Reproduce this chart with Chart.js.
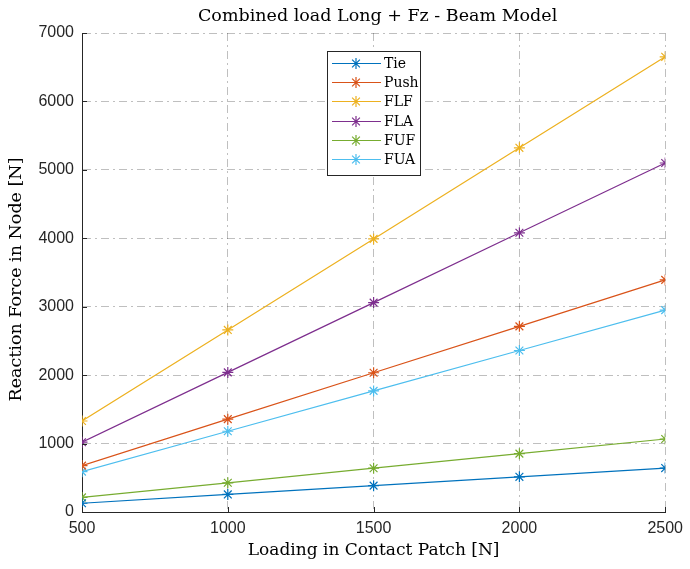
<!DOCTYPE html>
<html>
<head>
<meta charset="utf-8">
<script src="https://cdn.jsdelivr.net/npm/chart.js@4"></script>
<style>
  html, body { margin: 0; padding: 0; background: #fff; }
  #wrap { width: 690px; height: 569px; }
</style>
</head>
<body>
<div id="wrap"><canvas id="reactionChart" width="690" height="569"></canvas></div>
<script>
// Loading in contact patch [N]
const loads = [500, 1000, 1500, 2000, 2500];

// Reaction force in node [N]
const tie  = [128, 257, 385, 514, 642];
const push = [678, 1357, 2035, 2713, 3392];
const flf  = [1330, 2661, 3991, 5322, 6652];
const fla  = [1020, 2040, 3060, 4080, 5100];
const fuf  = [213, 427, 640, 853, 1067];
const fua  = [590, 1180, 1770, 2360, 2950];

const seriesNames = ["Tie", "Push", "FLF", "FLA", "FUF", "FUA"];
const seriesData = [tie, push, flf, fla, fuf, fua];
const seriesColors = ["#0072BD", "#D95319", "#EDB120", "#7E2F8E", "#77AC30", "#4DBEEE"];

const xTicks = [500, 1000, 1500, 2000, 2500];
const yTicks = [0, 1000, 2000, 3000, 4000, 5000, 6000, 7000];

const titleText = "Combined load Long + Fz - Beam Model";
const yLabel = "Reaction Force in Node [N]";

const serif = "'DejaVu Serif', 'Liberation Serif', serif";
const sans = "'Liberation Sans', Arial, sans-serif";

// Legend drawn inside the plot box like the MATLAB one (line + asterisk)
const boxLegend = {
  id: "boxLegend",
  afterDatasetsDraw(chart) {
    const ctx = chart.ctx;
    const x0 = 327, y0 = 51, w = 93, h = 124, rowH = 19.3;
    ctx.save();
    ctx.fillStyle = "#fff";
    ctx.fillRect(x0, y0, w, h);
    ctx.strokeStyle = "#262626";
    ctx.lineWidth = 1;
    ctx.strokeRect(x0 + 0.5, y0 + 0.5, w, h);
    ctx.font = "14px " + serif;
    ctx.textBaseline = "middle";
    chart.data.datasets.forEach((ds, i) => {
      const y = Math.round(y0 + 11.7 + i * rowH) + 0.5;
      ctx.strokeStyle = ds.borderColor;
      ctx.lineWidth = 1.2;
      ctx.beginPath();
      ctx.moveTo(x0 + 5, y);
      ctx.lineTo(x0 + 54, y);
      ctx.stroke();
      Chart.helpers.drawPoint(ctx, { pointStyle: "star", radius: 5.5, borderWidth: 1.2 }, x0 + 29, y);
      ctx.fillStyle = "#000";
      ctx.fillText(ds.label, x0 + 57, y + 1);
    });
    ctx.restore();
  }
};

// MATLAB-style inward tick marks, title over the axes, rotated y label
const axesDecor = {
  id: "axesDecor",
  afterDraw(chart) {
    const ctx = chart.ctx;
    const xs = chart.scales.x, ys = chart.scales.y;
    const a = chart.chartArea;
    ctx.save();
    ctx.strokeStyle = "#262626";
    ctx.lineWidth = 1;
    ctx.beginPath();
    xTicks.forEach(v => {
      const px = Math.round(xs.getPixelForValue(v)) + 0.5;
      ctx.moveTo(px, a.bottom);
      ctx.lineTo(px, a.bottom - 5);
    });
    yTicks.forEach(v => {
      const py = Math.round(ys.getPixelForValue(v)) + 0.5;
      ctx.moveTo(a.left, py);
      ctx.lineTo(a.left + 5, py);
    });
    ctx.stroke();

    ctx.fillStyle = "#000";
    ctx.textAlign = "center";
    ctx.textBaseline = "middle";
    ctx.font = "17.5px " + serif;
    ctx.fillText(titleText, (a.left + a.right) / 2 + 4, 16);

    ctx.font = "17.5px " + serif;
    ctx.translate(16, (a.top + a.bottom) / 2 + 7);
    ctx.rotate(-Math.PI / 2);
    ctx.fillText(yLabel, 0, 0);
    ctx.restore();
  }
};

const ctx = document.getElementById("reactionChart").getContext("2d");
new Chart(ctx, {
  type: "line",
  data: {
    datasets: seriesNames.map((name, i) => ({
      label: name,
      data: loads.map((x, j) => ({ x: x, y: seriesData[i][j] })),
      borderColor: seriesColors[i],
      backgroundColor: seriesColors[i],
      borderWidth: 1.2,
      pointStyle: "star",
      pointRadius: 5.5,
      pointBorderWidth: 1.2,
      fill: false,
      tension: 0
    }))
  },
  options: {
    responsive: false,
    animation: false,
    layout: { padding: { top: 0, right: 12, left: 0, bottom: 0 } },
    plugins: {
      legend: { display: false },
      tooltip: { enabled: false },
      title: {
        // keeps the space above the axes; the text itself is drawn by axesDecor
        display: true,
        text: titleText,
        color: "rgba(0,0,0,0)",
        font: { family: serif, size: 17.5, weight: "normal" },
        padding: { top: 6, bottom: 6 }
      }
    },
    scales: {
      x: {
        type: "linear",
        min: 500,
        max: 2500,
        afterBuildTicks: s => { s.ticks = xTicks.map(v => ({ value: v })); },
        afterFit: s => { s.height = 57; },
        ticks: { color: "#262626", font: { family: sans, size: 16 }, padding: 7, callback: v => String(v) },
        grid: { color: "rgba(0,0,0,0.25)", lineWidth: 1, drawTicks: false },
        border: { display: true, color: "#262626", width: 1, dash: [8, 4, 2, 4] },
        title: { display: true, text: "Loading in Contact Patch [N]", color: "#000", font: { family: serif, size: 17 }, padding: { top: 0, bottom: 8 } }
      },
      y: {
        min: 0,
        max: 7000,
        afterBuildTicks: s => { s.ticks = yTicks.map(v => ({ value: v })); },
        afterFit: s => { s.width = 82; },
        ticks: { color: "#262626", font: { family: sans, size: 16 }, padding: 8, callback: v => String(v) },
        grid: { color: "rgba(0,0,0,0.25)", lineWidth: 1, drawTicks: false },
        border: { display: true, color: "#262626", width: 1, dash: [8, 4, 2, 4] },
        title: { display: false }
      }
    }
  },
  plugins: [boxLegend, axesDecor]
});
</script>
</body>
</html>
